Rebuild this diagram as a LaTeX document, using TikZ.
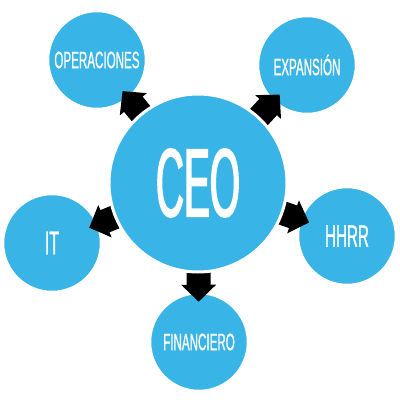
\documentclass[tikz,border=0pt]{standalone}
\usepackage{fontspec}
\usetikzlibrary{arrows.meta}
\newfontfamily\condfont[FakeStretch=0.49, FakeBold=0.8]{Liberation Sans}
\newfontfamily\ceofont[FakeStretch=0.40, FakeBold=1.5]{Liberation Sans}
\definecolor{bubble}{RGB}{57,180,230}
\pgfdeclarelayer{back}
\pgfdeclarelayer{front}
\pgfsetlayers{back,main,front}
\tikzset{
  sat/.style={circle, fill=bubble, draw=white, line width=1.5pt, inner sep=0pt, minimum size=97pt, text=white, font=\condfont\fontsize{23.7}{26}\selectfont},
  boss/.style={circle, fill=bubble, draw=white, line width=3pt, inner sep=0pt, minimum size=178pt, text=white, font=\ceofont\fontsize{97}{100}\selectfont},
  blockarrow/.style={line width=24pt, black, -{Triangle[width=34pt,length=17pt]}, shorten >=-9pt, shorten <=-14pt}
}
\begin{document}
\begin{tikzpicture}[x=1pt,y=-1pt]
\useasboundingbox (0,0) rectangle (400,400);
\begin{pgfonlayer}{back}
\node[sat] (ops) at (97,60) {OPERACIONES};
\node[sat] (exp) at (307,65) {EXPANSIÓN};
\node[sat, font=\condfont\fontsize{31}{33}\selectfont] (hhrr) at (347,236) {HHRR};
\node[sat, font=\condfont\fontsize{33}{35}\selectfont] (it) at (52,243) {IT};
\node[sat] (fin) at (199,342) {FINANCIERO};
\end{pgfonlayer}
\begin{pgfonlayer}{front}
\node[boss] (ceo) at (198,183) {CEO};
\end{pgfonlayer}
\draw[blockarrow] (ceo) -- (ops);
\draw[blockarrow] (ceo) -- (exp);
\draw[blockarrow] (ceo) -- (hhrr);
\draw[blockarrow] (ceo) -- (it);
\draw[blockarrow] (ceo) -- (fin);
\end{tikzpicture}
\end{document}
